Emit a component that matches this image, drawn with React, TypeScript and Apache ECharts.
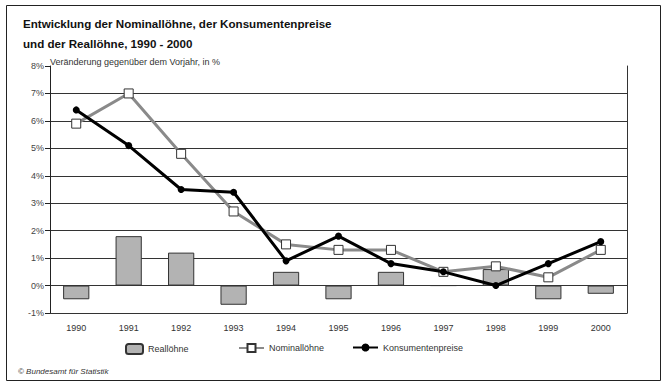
import React, { useEffect, useRef } from "react";
import * as echarts from "echarts";

const years = ["1990", "1991", "1992", "1993", "1994", "1995", "1996", "1997", "1998", "1999", "2000"];
const reallohne = [-0.5, 1.8, 1.2, -0.7, 0.5, -0.5, 0.5, 0.0, 0.6, -0.5, -0.3];
const nominallohne = [5.9, 7.0, 4.8, 2.7, 1.5, 1.3, 1.3, 0.5, 0.7, 0.3, 1.3];
const konsumentenpreise = [6.4, 5.1, 3.5, 3.4, 0.9, 1.8, 0.8, 0.5, 0.0, 0.8, 1.6];

const FONT = "Liberation Sans, Arial, sans-serif";

export default function App() {
  const ref = useRef<HTMLDivElement>(null);
  useEffect(() => {
    document.body.style.margin = "0";
    const chart = echarts.init(ref.current!, null, { renderer: "svg" });
    const legendText = { fontFamily: FONT, fontSize: 9, color: "#333" };
    chart.setOption({
      animation: false,
      backgroundColor: "#fff",
      textStyle: { fontFamily: FONT },
      title: {
        text: "Entwicklung der Nominallöhne, der Konsumentenpreise\nund der Reallöhne, 1990 - 2000",
        left: 18,
        top: 8,
        textStyle: { fontFamily: FONT, fontSize: 11.6, fontWeight: "bold", color: "#111", lineHeight: 20 },
      },
      grid: { left: 50, right: 43, top: 66, bottom: 77 },
      legend: [
        { left: 120, top: 338, itemWidth: 17, itemHeight: 10, textStyle: legendText, data: ["Reallöhne"], selectedMode: false },
        { left: 233, top: 338, itemWidth: 25, itemHeight: 10, textStyle: legendText, data: ["Nominallöhne"], selectedMode: false },
        { left: 347, top: 338, itemWidth: 25, itemHeight: 10, textStyle: legendText, data: ["Konsumentenpreise"], selectedMode: false },
      ],
      xAxis: {
        type: "category",
        data: years,
        axisLine: { onZero: false, lineStyle: { color: "#333", width: 1 } },
        axisTick: { show: false },
        axisLabel: { color: "#333", fontSize: 9, margin: 10, fontFamily: FONT },
      },
      yAxis: [
        {
          type: "value",
          min: -1,
          max: 8,
          interval: 1,
          axisLine: { show: true, lineStyle: { color: "#222", width: 1 } },
          axisTick: { show: true, length: 5, lineStyle: { color: "#222" } },
          axisLabel: { formatter: "{value}%", color: "#444", fontSize: 9, margin: 6, fontFamily: FONT },
          splitLine: { show: true, showMaxLine: false, lineStyle: { color: "#333", width: 1 } },
        },
        {
          type: "value",
          position: "right",
          min: -1,
          max: 8,
          interval: 1,
          axisLine: { show: true, lineStyle: { color: "#333", width: 1 } },
          axisTick: { show: false },
          axisLabel: { show: false },
          splitLine: { show: false },
        },
      ],
      series: [
        {
          name: "Reallöhne",
          type: "bar",
          data: reallohne,
          barWidth: "50%",
          itemStyle: { color: "#b3b3b3", borderColor: "#333", borderWidth: 1 },
        },
        {
          name: "Nominallöhne",
          type: "line",
          data: nominallohne,
          symbol: "rect",
          symbolSize: 9,
          lineStyle: { color: "#8a8a8a", width: 3 },
          itemStyle: { color: "#fff", borderColor: "#333", borderWidth: 1 },
          z: 3,
        },
        {
          name: "Konsumentenpreise",
          type: "line",
          data: konsumentenpreise,
          symbol: "circle",
          symbolSize: 7,
          lineStyle: { color: "#000", width: 3 },
          itemStyle: { color: "#000", borderColor: "#000", borderWidth: 0 },
          z: 4,
        },
      ],
      graphic: [
        {
          type: "rect",
          shape: { x: 6.5, y: 5.5, width: 654, height: 375 },
          style: { fill: "none", stroke: "#222", lineWidth: 1 },
          silent: true,
          z: -1,
        },
        {
          type: "text",
          x: 50,
          y: 57,
          style: { text: "Veränderung gegenüber dem Vorjahr, in %", fontFamily: FONT, fontSize: 9, fill: "#333" },
        },
        {
          type: "text",
          x: 18,
          y: 367,
          style: { text: "© Bundesamt für Statistik", fontFamily: FONT, fontSize: 8, fontStyle: "italic", fill: "#333" },
        },
      ],
    });
    return () => chart.dispose();
  }, []);
  return <div ref={ref} style={{ width: 670, height: 390 }} />;
}
